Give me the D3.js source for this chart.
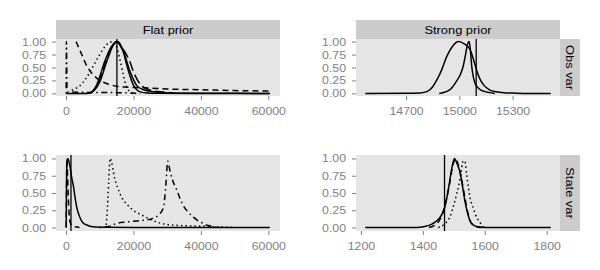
<!DOCTYPE html>
<html>
<head>
<meta charset="utf-8">
<script src="https://cdn.jsdelivr.net/npm/d3@7"></script>
<style>
  body { margin: 0; background: #fff; }
  text { font-family: "Liberation Sans", Arial, sans-serif; }
</style>
</head>
<body>
<div id="chart"></div>
<script>
// tick labels
const densityTicks = [0, 0.25, 0.5, 0.75, 1]
const flatTicks = [0, 20000, 40000, 60000]
const strongObsTicks = [14700, 15000, 15300]
const strongStateTicks = [1200, 1400, 1600, 1800]

// true parameter values (vertical lines)
const obsTrueValue = 15095
const stateTrueValue = 1470

// Flat prior, obs var  -- [value, scaled density]
const flatObsSolid = [[50, 0], [5000, 0], [7000, 0.01], [8000, 0.05], [9000, 0.15], [10000, 0.32], [11000, 0.53], [12000, 0.7], [13000, 0.85], [14000, 0.95], [15000, 1.0], [16000, 0.93], [17000, 0.8], [18000, 0.55], [19000, 0.33], [20000, 0.16], [21000, 0.07], [22000, 0.03], [24000, 0.01], [28000, 0.003], [40000, 0], [60440, 0]]
const flatObsSolid2 = [[6000, 0], [8000, 0.04], [10000, 0.22], [12000, 0.6], [14000, 0.93], [15300, 1.0], [17000, 0.82], [19000, 0.42], [21000, 0.15], [23000, 0.07], [26000, 0.03], [30000, 0.01], [40000, 0.003], [60440, 0]]
const flatObsLongdash = [[7000, 0], [9000, 0.12], [11000, 0.45], [13000, 0.82], [15000, 1.0], [17000, 0.85], [19000, 0.6], [20000, 0.42], [21000, 0.28], [22000, 0.18], [23000, 0.12], [25000, 0.06], [28000, 0.03], [32000, 0.01]]
const flatObsDashed = [[3000, 1.0], [4000, 0.85], [5000, 0.7], [6000, 0.55], [7500, 0.4], [9000, 0.3], [11000, 0.22], [13000, 0.17], [15000, 0.14], [18000, 0.12], [22000, 0.11], [30000, 0.085], [40000, 0.07], [50000, 0.055], [60440, 0.045]]
const flatObsDotted = [[1700, 0.06], [3000, 0.1], [4000, 0.14], [5500, 0.25], [7000, 0.4], [8500, 0.58], [10000, 0.75], [11500, 0.9], [13000, 0.99], [14000, 1.0], [15000, 0.9], [16000, 0.65], [17000, 0.35], [18000, 0.12], [19000, 0.03], [20000, 0]]
const flatObsDotdash = [[50, 0], [120, 1.0], [300, 0.1], [600, 0.03], [5000, 0.02], [15000, 0.015], [19000, 0.01], [22000, 0]]

// Strong prior, obs var
const strongObsSolid = [[14470, 0], [14700, 0.001], [14780, 0.01], [14820, 0.04], [14850, 0.13], [14875, 0.27], [14900, 0.45], [14930, 0.72], [14960, 0.9], [14995, 1.0], [15030, 0.95], [15060, 0.85], [15080, 0.65], [15100, 0.42], [15120, 0.25], [15140, 0.15], [15170, 0.07], [15200, 0.035], [15250, 0.015], [15320, 0.005], [15400, 0], [15515, 0]]
const strongObsSolid2 = [[14887, 0], [14930, 0.04], [14950, 0.08], [14985, 0.24], [15010, 0.4], [15022, 0.53], [15035, 0.75], [15045, 0.93], [15056, 1.0], [15063, 0.8], [15070, 0.52], [15080, 0.3], [15090, 0.18], [15105, 0.11], [15120, 0.07], [15140, 0.04], [15170, 0.015], [15200, 0]]

// Flat prior, state var
const flatStateSolid = [[50, 0], [200, 0.9], [500, 1.0], [900, 0.95], [1300, 0.85], [1700, 0.72], [2200, 0.6], [2700, 0.43], [3200, 0.29], [4000, 0.16], [5000, 0.07], [6500, 0.03], [8000, 0.01], [12000, 0.003], [20000, 0], [60440, 0]]
const flatStateDashed = [[50, 0], [150, 0.6], [300, 1.0], [500, 0.7], [800, 0.3], [1200, 0.08], [2000, 0.02], [4000, 0]]
const flatStateDotted = [[11000, 0], [11800, 0.02], [12300, 0.3], [12700, 0.7], [13050, 1.0], [14500, 0.7], [16000, 0.49], [19000, 0.29], [22900, 0.17], [26900, 0.08], [31800, 0.035], [39600, 0.02], [45000, 0.01], [50000, 0]]
const flatStateDotdash = [[10000, 0], [12000, 0.01], [13000, 0.02], [15000, 0.06], [18000, 0.08], [22000, 0.1], [25000, 0.12], [27400, 0.18], [28900, 0.29], [29600, 0.61], [30150, 0.96], [30800, 0.83], [31500, 0.7], [32800, 0.55], [33800, 0.42], [35000, 0.3], [36300, 0.22], [37800, 0.15], [38800, 0.11], [40700, 0.06], [41700, 0.035], [43200, 0.02], [44500, 0.005], [46000, 0]]

// Strong prior, state var
const strongStateSolid = [[1214, 0], [1380, 0], [1402, 0.01], [1429, 0.05], [1456, 0.15], [1470, 0.28], [1477, 0.42], [1486, 0.65], [1494, 0.87], [1502, 1.0], [1510, 0.93], [1520, 0.8], [1528, 0.6], [1536, 0.38], [1545, 0.2], [1553, 0.09], [1565, 0.03], [1578, 0.01], [1600, 0], [1813, 0]]
const strongStateDashed = [[1420, 0], [1450, 0.08], [1470, 0.3], [1485, 0.6], [1497, 0.9], [1505, 1.0], [1515, 0.9], [1525, 0.7], [1535, 0.45], [1545, 0.22], [1555, 0.08], [1570, 0.02], [1590, 0]]
const strongStateDotted = [[1450, 0], [1470, 0.05], [1488, 0.16], [1500, 0.33], [1510, 0.5], [1520, 0.7], [1531, 0.97], [1536, 0.95], [1542, 0.75], [1553, 0.42], [1563, 0.28], [1569, 0.2], [1585, 0.07], [1598, 0]]

const DASHES = {
  solid: null,
  dashed: "6,4",
  dotted: "1.5,3",
  dotdash: "1.5,3.5,6,3.5",
  longdash: "10,4"
}

const SX = 1.12 // text is a bit wider than the font metrics

class DensityPanel {
  constructor(_svg, _opts) {
    Object.assign(this, _opts)
    this.svg = _svg
    this.initVis()
  }

  initVis() {
    const vis = this

    vis.g = vis.svg.append("g")
      .attr("transform", `translate(${vis.left}, ${vis.top})`)

    vis.g.append("rect")
      .attr("width", vis.WIDTH)
      .attr("height", vis.HEIGHT)
      .attr("fill", "#e5e5e5")

    // free x scale with ggplot's 5% expansion
    const [x0, x1] = d3.extent(vis.lines.flatMap(l => l.data.map(d => d[0])))
    const pad = (x1 - x0) * 0.05
    vis.x = d3.scaleLinear().domain([x0 - pad, x1 + pad]).range([0, vis.WIDTH])
    vis.y = d3.scaleLinear().domain([-0.05, 1.05]).range([vis.HEIGHT, 0])

    vis.xAxis = vis.g.append("g")
      .attr("transform", `translate(0, ${vis.HEIGHT})`)
      .call(d3.axisBottom(vis.x).tickValues(vis.ticks).tickSize(4).tickPadding(7).tickFormat(d3.format("d")))
    vis.yAxis = vis.g.append("g")
      .call(d3.axisLeft(vis.y).tickValues(densityTicks).tickSize(4).tickPadding(6).tickFormat(d3.format(".2f")))

    vis.g.selectAll(".domain").remove()
    vis.g.selectAll(".tick line").attr("stroke", "#7f7f7f")
    vis.g.selectAll(".tick text")
      .attr("fill", "#7f7f7f")
      .attr("font-size", "11px")
    vis.xAxis.selectAll(".tick text")
      .attr("transform", `scale(${SX}, 1)`)
    vis.yAxis.selectAll(".tick text")
      .attr("x", -10 / SX)
      .attr("transform", `scale(${SX}, 1)`)

    const clipId = `clip-${vis.left}-${vis.top}`
    vis.g.append("clipPath").attr("id", clipId)
      .append("rect").attr("width", vis.WIDTH).attr("height", vis.HEIGHT)

    const plot = vis.g.append("g").attr("clip-path", `url(#${clipId})`)

    const line = d3.line()
      .x(d => vis.x(d[0]))
      .y(d => vis.y(d[1]))
      .curve(d3.curveMonotoneX)

    plot.selectAll(".density")
      .data(vis.lines)
      .enter().append("path")
        .attr("class", "density")
        .attr("d", d => line(d.data))
        .attr("fill", "none")
        .attr("stroke", "#000")
        .attr("stroke-width", 1.5)
        .attr("stroke-dasharray", d => DASHES[d.type])

    plot.append("line")
      .attr("x1", vis.x(vis.trueValue))
      .attr("x2", vis.x(vis.trueValue))
      .attr("y1", 0)
      .attr("y2", vis.HEIGHT)
      .attr("stroke", "#000")
      .attr("stroke-width", 1.3)

    if (vis.topStrip) vis.addTopStrip()
    if (vis.rightStrip) vis.addRightStrip()
  }

  addTopStrip() {
    const vis = this
    const strip = vis.g.append("g").attr("transform", "translate(0, -19)")
    strip.append("rect")
      .attr("width", vis.WIDTH)
      .attr("height", 19)
      .attr("fill", "#cccccc")
    strip.append("text")
      .attr("transform", `translate(${vis.WIDTH / 2}, 13.5) scale(${SX}, 1)`)
      .attr("text-anchor", "middle")
      .attr("font-size", "11.5px")
      .text(vis.topStrip)
  }

  addRightStrip() {
    const vis = this
    const strip = vis.g.append("g").attr("transform", `translate(${vis.WIDTH}, 0)`)
    strip.append("rect")
      .attr("width", 20)
      .attr("height", vis.HEIGHT)
      .attr("fill", "#cccccc")
    strip.append("text")
      .attr("transform", `translate(6, ${vis.HEIGHT / 2}) rotate(90) scale(${SX}, 1)`)
      .attr("text-anchor", "middle")
      .attr("font-size", "11.5px")
      .text(vis.rightStrip)
  }
}

const svg = d3.select("#chart").append("svg")
  .attr("width", 600)
  .attr("height", 270)

new DensityPanel(svg, {
  left: 56, top: 39, WIDTH: 224, HEIGHT: 57,
  ticks: flatTicks, trueValue: obsTrueValue, topStrip: "Flat prior",
  lines: [
    { type: "solid", data: flatObsSolid },
    { type: "solid", data: flatObsSolid2 },
    { type: "longdash", data: flatObsLongdash },
    { type: "dashed", data: flatObsDashed },
    { type: "dotted", data: flatObsDotted },
    { type: "dotdash", data: flatObsDotdash }
  ]
})

new DensityPanel(svg, {
  left: 356, top: 39, WIDTH: 204, HEIGHT: 57,
  ticks: strongObsTicks, trueValue: obsTrueValue, topStrip: "Strong prior", rightStrip: "Obs var",
  lines: [
    { type: "solid", data: strongObsSolid },
    { type: "solid", data: strongObsSolid2 }
  ]
})

new DensityPanel(svg, {
  left: 56, top: 155, WIDTH: 224, HEIGHT: 76,
  ticks: flatTicks, trueValue: stateTrueValue,
  lines: [
    { type: "solid", data: flatStateSolid },
    { type: "dashed", data: flatStateDashed },
    { type: "dotted", data: flatStateDotted },
    { type: "dotdash", data: flatStateDotdash }
  ]
})

new DensityPanel(svg, {
  left: 356, top: 155, WIDTH: 204, HEIGHT: 76,
  ticks: strongStateTicks, trueValue: stateTrueValue, rightStrip: "State var",
  lines: [
    { type: "solid", data: strongStateSolid },
    { type: "dashed", data: strongStateDashed },
    { type: "dotted", data: strongStateDotted }
  ]
})
</script>
</body>
</html>
